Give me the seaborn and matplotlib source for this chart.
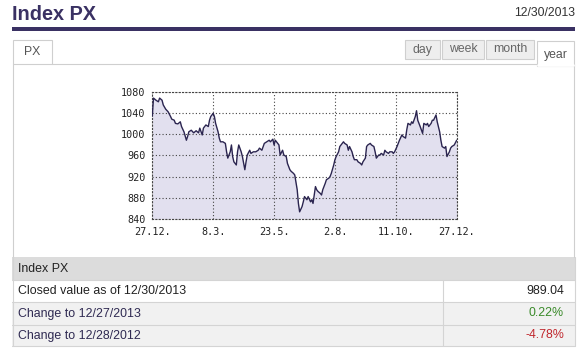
import numpy as np
import pandas as pd
import matplotlib
matplotlib.use("Agg")
import matplotlib.pyplot as plt
import seaborn as sns
from matplotlib.patches import Rectangle
from matplotlib.lines import Line2D

# ---------------- data ----------------
days = [0, 1, 3, 5, 6, 8, 9, 11, 13, 15, 16, 18, 19, 21, 23, 24, 26, 28, 29, 30,
        32, 34, 36, 38, 39, 41, 42, 44, 46, 47, 48, 50, 51, 52, 54, 55, 56, 58, 60, 61,
        62, 64, 65, 66, 67, 69, 70, 71, 73, 74, 76, 77, 78, 80, 81, 83, 85, 87, 88, 90,
        92, 94, 96, 97, 99, 100, 101, 103, 104, 105, 107, 108, 110, 111, 113, 114, 116, 117,
        119, 120, 121, 123, 124, 125, 127, 128, 130, 131, 132, 134, 135, 136, 138, 139, 140,
        142, 143, 145, 146, 147, 149, 150, 151, 153, 154, 156, 157, 158, 160, 161, 162, 164,
        165, 166, 168, 169, 171, 172, 173, 175, 176, 177, 179, 180, 182, 183, 184, 186, 187,
        188, 190, 191, 192, 194, 195, 197, 198, 199, 201, 202, 203, 205, 206, 208, 209, 210,
        212, 213, 214, 216, 217, 218, 219, 220, 222, 223, 225, 226, 227, 229, 230, 231, 233,
        234, 236, 237, 238, 240, 241, 242, 244, 245, 246, 248, 250]
values = [1035, 1069, 1065, 1062, 1069, 1065, 1056, 1048, 1043, 1034, 1029, 1027, 1021, 1020,
          1024, 1015, 1005, 989, 996, 1005, 1008, 1003, 1007, 1003, 1012, 999, 1012, 1018, 1015,
          1027, 1034, 1040, 1034, 1021, 1005, 993, 986, 986, 983, 967, 955, 967, 980, 958, 948,
          942, 967, 980, 967, 958, 933, 948, 961, 970, 964, 967, 967, 970, 974, 970, 983, 986,
          989, 986, 991, 980, 989, 983, 980, 961, 970, 961, 958, 945, 933, 930, 926, 923,
          895, 869, 853, 863, 872, 882, 876, 882, 872, 876, 869, 901, 895, 892, 888, 885, 895,
          907, 914, 917, 920, 926, 942, 952, 958, 967, 977, 983, 986, 983, 980, 970, 977, 967,
          958, 952, 952, 948, 945, 942, 948, 955, 977, 980, 983, 980, 977, 967, 955, 961, 961,
          964, 961, 970, 967, 964, 967, 967, 964, 967, 977, 983, 989, 999, 996, 993, 1009, 1021,
          1018, 1024, 1021, 1034, 1045, 1027, 1021, 1015, 1002, 1021, 1018, 1021, 1015, 1021,
          1027, 1027, 1037, 1024, 1005, 989, 977, 974, 977, 958, 967, 974, 977, 980, 989.04]
tick_days = [0, 50, 100, 150, 200, 250]
tick_labels = ["27.12.", "8.3.", "23.5.", "2.8.", "11.10.", "27.12."]
y_ticks = [840, 880, 920, 960, 1000, 1040, 1080]

title = "Index PX"
date_text = "12/30/2013"
tab_left = "PX"
tabs = ["day", "week", "month", "year"]
table_header = "Index PX"
row_labels = ["Closed value as of 12/30/2013", "Change to 12/27/2013", "Change to 12/28/2012"]
row_values = ["989.04", "0.22%", "-4.78%"]

df = pd.DataFrame({"day": days, "value": values})

# ---------------- figure ----------------
sns.set_style("white")
plt.rcParams['font.family'] = ['Liberation Sans', 'DejaVu Sans']

W, H = 586, 348
fig = plt.figure(figsize=(W / 100, H / 100), dpi=100)
fig.patch.set_facecolor("white")

def fx(x):
    return x / W

def fy(y):
    return 1 - y / H

def rect(x0, y0, x1, y1, fc, ec="none", lw=0.8, z=1):
    fig.add_artist(Rectangle((fx(x0), fy(y1)), fx(x1) - fx(x0), fy(y0) - fy(y1),
                             transform=fig.transFigure, facecolor=fc, edgecolor=ec,
                             linewidth=lw, zorder=z))

def hline(x0, x1, y, color, lw=0.8, z=2):
    fig.add_artist(Line2D([fx(x0), fx(x1)], [fy(y), fy(y)], transform=fig.transFigure,
                          color=color, linewidth=lw, zorder=z))

def vline(x, y0, y1, color, lw=0.8, z=2):
    fig.add_artist(Line2D([fx(x), fx(x)], [fy(y0), fy(y1)], transform=fig.transFigure,
                          color=color, linewidth=lw, zorder=z))

purple = "#3a3163"
navy_text = "#2f2a52"
border = "#cfcfcf"

# header
fig.text(fx(12), fy(14.5), title, fontsize=14.3, fontweight="bold", color=purple,
         ha="left", va="center")
fig.text(fx(575), fy(13), date_text, fontsize=8.8, color="#333333", ha="right", va="center")
rect(12, 27, 575, 31, purple, z=2)

# tabs
rect(12.5, 40, 52, 64, "white", border)
fig.text(fx(32), fy(52), tab_left, fontsize=8.8, color="#555555", ha="center", va="center")
tab_x = [(405, 440), (442, 484), (486, 534), (537, 574)]
for (a, b), t in zip(tab_x, tabs):
    if t == "year":
        rect(a, 41, b, 66, "white", border, z=3)
        hline(a + 0.6, b - 0.6, 64.5, "white", lw=2.0, z=4)
        fig.text(fx((a + b) / 2), fy(55), t, fontsize=8.8, color="#555555",
                 ha="center", va="center", zorder=5)
    else:
        rect(a, 40, b, 59, "#eeeeee", border, z=3)
        fig.text(fx((a + b) / 2), fy(49.5), t, fontsize=8.8, color="#666666",
                 ha="center", va="center", zorder=5)

# panel borders
hline(52, 537, 64, border)
vline(12.5, 64, 257, border)
vline(574, 64, 257, border)

# table
rect(12, 257, 575, 280, "#dcdcdc", z=1)
rect(12, 280, 575, 302, "white", z=1)
rect(12, 302, 575, 325, "#f1f1f1", z=1)
rect(12, 325, 575, 346, "#f1f1f1", z=1)
for y in [280, 302, 325, 346]:
    hline(12, 575, y, "#d4d4d4", lw=0.8)
vline(12.5, 257, 346, "#d4d4d4")
vline(574.5, 257, 346, "#d4d4d4")
vline(443, 280, 346, "#d4d4d4")
fig.text(fx(18), fy(268.5), table_header, fontsize=8.9, color="#222222", ha="left", va="center")
row_centers = [291, 313.5, 335.5]
label_colors = ["#222222", navy_text, navy_text]
value_colors = ["#222222", "#3a8a2a", "#c0282e"]
for yc, lab, val, lc, vc in zip(row_centers, row_labels, row_values, label_colors, value_colors):
    fig.text(fx(18), fy(yc), lab, fontsize=8.9, color=lc, ha="left", va="center")
    fig.text(fx(564), fy(yc), val, fontsize=8.9, color=vc, ha="right", va="center")

# chart
ax = fig.add_axes([fx(152.3), fy(218.7), fx(456.7) - fx(152.3), fy(92.3) - fy(218.7)])
ax.set_facecolor("white")
ax.fill_between(df["day"], df["value"], 840, color="#e2e0ef", linewidth=0, zorder=1)
sns.lineplot(data=df, x="day", y="value", ax=ax, color="#2b2550", linewidth=1.0, zorder=3)
ax.set_xlim(0, 250)
ax.set_ylim(840, 1080)
ax.set_xticks(tick_days)
ax.set_yticks(y_ticks)
ax.set_xticklabels(tick_labels, family="DejaVu Sans Mono", fontsize=7.3, color="#222222")
ax.set_yticklabels([str(v) for v in y_ticks], family="DejaVu Sans Mono", fontsize=7.3,
                   color="#222222")
ax.tick_params(axis="x", length=0, pad=6)
ax.tick_params(axis="y", length=0, pad=5)
ax.grid(True, color="#444444", linestyle=(0, (1, 2)), linewidth=0.8, zorder=2)
ax.set_axisbelow(False)
for s in ["top", "right", "bottom", "left"]:
    ax.spines[s].set_visible(True)
    ax.spines[s].set_color("#444444")
    ax.spines[s].set_linestyle((0, (1, 2)))
    ax.spines[s].set_linewidth(0.8)
ax.set_xlabel("")
ax.set_ylabel("")

fig.savefig("out.png", dpi=100)
